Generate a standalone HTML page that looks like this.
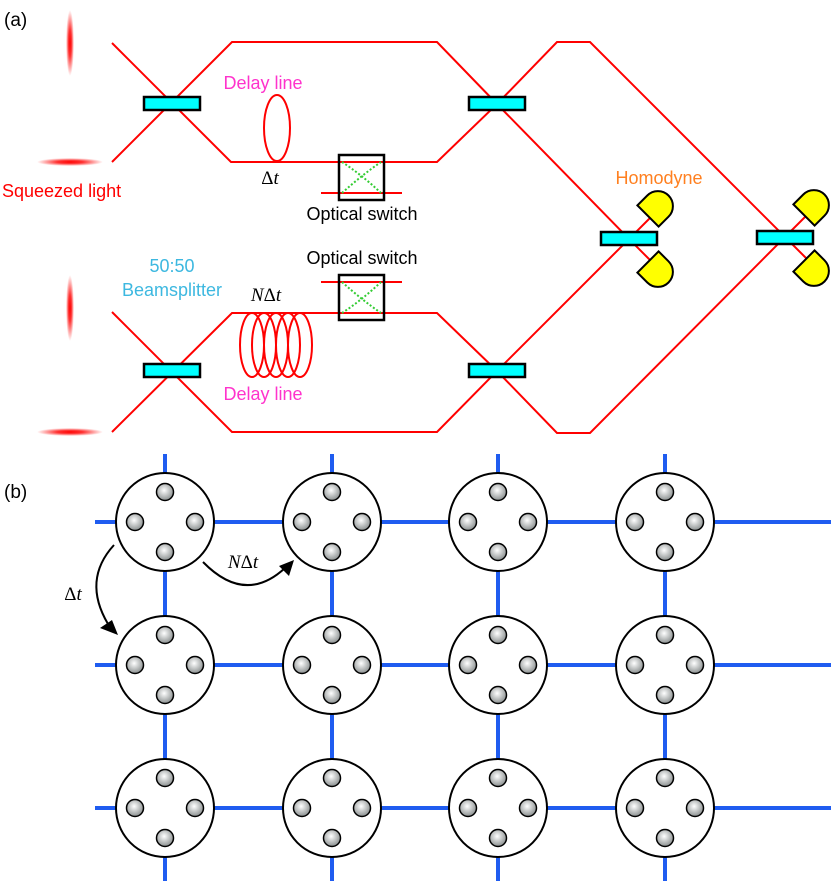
<!DOCTYPE html>
<html><head><meta charset="utf-8"><style>
html,body{margin:0;padding:0;background:#fff}
svg{display:block}
text{font-family:"Liberation Sans",sans-serif}
.m{font-family:"Liberation Serif",serif;font-style:italic}
</style></head><body>
<svg width="831" height="881" viewBox="0 0 831 881" xmlns="http://www.w3.org/2000/svg">
<defs>
<radialGradient id="bv" cx="50%" cy="50%" r="50%"><stop offset="0" stop-color="#ff0000"/><stop offset="0.4" stop-color="#ff0000" stop-opacity="0.8"/><stop offset="1" stop-color="#ff0000" stop-opacity="0"/></radialGradient>
<radialGradient id="sp" cx="45%" cy="40%" r="60%"><stop offset="0" stop-color="#ffffff"/><stop offset="1" stop-color="#8a8f8f"/></radialGradient>
<g id="node">
<circle r="49" fill="#fff" stroke="#000" stroke-width="2"/>
<g fill="url(#sp)" stroke="#000" stroke-width="1.5">
<circle cx="0" cy="-30" r="8.5"/><circle cx="0" cy="30" r="8.5"/><circle cx="-30" cy="0" r="8.5"/><circle cx="30" cy="0" r="8.5"/>
</g></g>
<g id="det"><path d="M-15,0 L15,0 L15,-14 A15,15 0 0 0 -15,-14 Z" fill="#ffff00" stroke="#000" stroke-width="2"/></g>
</defs>

<text x="4" y="26" font-size="19">(a)</text>
<text x="4" y="498" font-size="19">(b)</text>

<ellipse cx="70" cy="43" rx="4" ry="33" fill="url(#bv)"/>
<ellipse cx="70" cy="162" rx="33" ry="4" fill="url(#bv)"/>
<ellipse cx="70" cy="308" rx="4" ry="33" fill="url(#bv)"/>
<ellipse cx="70" cy="432" rx="33" ry="4" fill="url(#bv)"/>

<g fill="none" stroke="#ff0000" stroke-width="2">
<path d="M112,43 L231,162 L437,162 L497,104 L629,239 L650,218"/>
<path d="M112,162 L232,42 L437,42 L497,104 L557,42 L590,42 L785,237 L806,216"/>
<path d="M112,312 L232,432 L437,432 L497,371 L629,239 L650,260"/>
<path d="M112,432 L232,313 L437,313 L497,371 L557,433 L590,433 L785,237 L806,258"/>
<line x1="321" y1="193" x2="402" y2="193"/>
<line x1="321" y1="282" x2="402" y2="282"/>
<ellipse cx="277" cy="128" rx="13" ry="33"/>
<ellipse cx="252" cy="345" rx="12" ry="32"/>
<ellipse cx="264" cy="345" rx="12" ry="32"/>
<ellipse cx="276" cy="345" rx="12" ry="32"/>
<ellipse cx="288" cy="345" rx="12" ry="32"/>
<ellipse cx="300" cy="345" rx="12" ry="32"/>
</g>

<g fill="none" stroke="#000" stroke-width="2.5">
<rect x="339" y="155" width="45" height="45"/>
<rect x="339" y="275" width="45" height="45"/>
</g>
<g stroke="#33cc33" stroke-width="2" stroke-dasharray="2,2" fill="none">
<path d="M342,162 Q362,175 381,193"/><path d="M342,193 Q362,175 381,162"/>
<path d="M342,282 Q362,300 381,313"/><path d="M342,313 Q362,300 381,282"/>
</g>

<g fill="#00ffff" stroke="#000" stroke-width="2.5">
<rect x="144" y="97" width="56" height="13"/>
<rect x="469" y="97" width="56" height="13"/>
<rect x="144" y="364" width="56" height="13"/>
<rect x="469" y="364" width="56" height="13"/>
<rect x="601" y="232" width="56" height="13"/>
<rect x="757" y="231" width="56" height="13"/>
</g>

<use href="#det" transform="translate(648,216) rotate(45)"/>
<use href="#det" transform="translate(648,262) rotate(135)"/>
<use href="#det" transform="translate(804,215) rotate(45)"/>
<use href="#det" transform="translate(804,261) rotate(135)"/>

<text x="263" y="89" font-size="18" fill="#ff33cc" text-anchor="middle">Delay line</text>
<text x="263" y="400" font-size="18" fill="#ff33cc" text-anchor="middle">Delay line</text>
<text x="270" y="184" font-size="19" class="m" text-anchor="middle"><tspan font-style="normal">Δ</tspan>t</text>
<text x="266" y="301" font-size="19" class="m" text-anchor="middle">N<tspan font-style="normal">Δ</tspan>t</text>
<text x="362" y="220" font-size="18" text-anchor="middle">Optical switch</text>
<text x="362" y="264" font-size="18" text-anchor="middle">Optical switch</text>
<text x="2" y="197" font-size="18" fill="#ff0000">Squeezed light</text>
<text x="172" y="272" font-size="18" fill="#3db8e0" text-anchor="middle">50:50</text>
<text x="172" y="296" font-size="18" fill="#3db8e0" text-anchor="middle">Beamsplitter</text>
<text x="659" y="184" font-size="18" fill="#ff8020" text-anchor="middle">Homodyne</text>

<g stroke="#1f5cf0" stroke-width="4">
<line x1="95" y1="522" x2="831" y2="522"/>
<line x1="95" y1="665" x2="831" y2="665"/>
<line x1="95" y1="808" x2="831" y2="808"/>
<line x1="165" y1="454" x2="165" y2="881"/>
<line x1="332" y1="454" x2="332" y2="881"/>
<line x1="498" y1="454" x2="498" y2="881"/>
<line x1="665" y1="454" x2="665" y2="881"/>
</g>
<use href="#node" x="165" y="522"/><use href="#node" x="332" y="522"/><use href="#node" x="498" y="522"/><use href="#node" x="665" y="522"/>
<use href="#node" x="165" y="665"/><use href="#node" x="332" y="665"/><use href="#node" x="498" y="665"/><use href="#node" x="665" y="665"/>
<use href="#node" x="165" y="808"/><use href="#node" x="332" y="808"/><use href="#node" x="498" y="808"/><use href="#node" x="665" y="808"/>

<g fill="none" stroke="#000" stroke-width="2">
<path d="M114,545 Q82,580 108,624"/>
<path d="M203,562 Q245,605 285,568"/>
</g>
<path d="M118,635 L100,628 L112,620 Z" fill="#000"/>
<path d="M294,560 L279,566 L289,576 Z" fill="#000"/>
<text x="73" y="600" font-size="19" class="m" text-anchor="middle"><tspan font-style="normal">Δ</tspan>t</text>
<text x="243" y="568" font-size="19" class="m" text-anchor="middle">N<tspan font-style="normal">Δ</tspan>t</text>
</svg>
</body></html>
